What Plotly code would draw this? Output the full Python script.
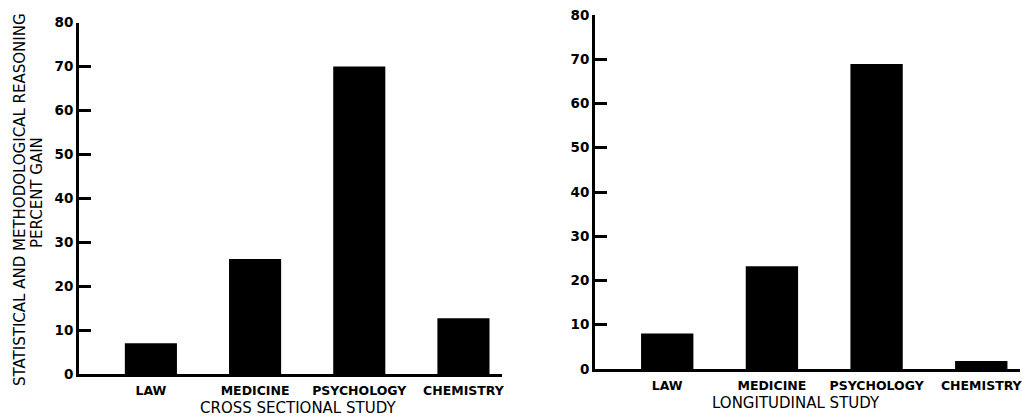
import plotly.graph_objects as go

categories = ["LAW", "MEDICINE", "PSYCHOLOGY", "CHEMISTRY"]
cross_sectional = [7.0, 26.2, 70.0, 12.7]
longitudinal = [8.0, 23.2, 68.9, 1.8]
y_ticks = [0, 10, 20, 30, 40, 50, 60, 70, 80]
left_title = "CROSS SECTIONAL STUDY"
right_title = "LONGITUDINAL STUDY"
y_title_lines = ["STATISTICAL AND METHODOLOGICAL REASONING", "PERCENT GAIN"]

W, H = 1026, 416
FONT = "DejaVu Sans"

fig = go.Figure()
fig.add_trace(go.Bar(x=categories, y=cross_sectional, width=0.5,
                     marker=dict(color="black", line=dict(width=0)),
                     xaxis="x", yaxis="y", showlegend=False))
fig.add_trace(go.Bar(x=categories, y=longitudinal, width=0.5,
                     marker=dict(color="black", line=dict(width=0)),
                     xaxis="x2", yaxis="y2", showlegend=False))

def px_dom(a, b, total):
    return [a / total, b / total]

xcommon = dict(type="category", range=[-0.69, 3.37], showline=True, linewidth=2.5,
               linecolor="black", ticks="", showgrid=False, zeroline=False,
               automargin=False,
               tickfont=dict(family=FONT, size=12.5, color="black", weight="bold"),
               ticklabelstandoff=3, fixedrange=True)
ycommon = dict(range=[0, 80], tickvals=y_ticks, ticks="inside", ticklen=12, tickwidth=3,
               tickcolor="black", showline=True, linewidth=3, linecolor="black",
               showgrid=False, zeroline=False, automargin=False, layer="above traces",
               tickfont=dict(family=FONT, size=13.5, color="black", weight="bold"),
               fixedrange=True)

fig.update_layout(
    width=W, height=H,
    margin=dict(l=0, r=0, t=0, b=0, autoexpand=False),
    paper_bgcolor="white", plot_bgcolor="white",
    xaxis=dict(xcommon, domain=px_dom(79, 502, W), anchor="y"),
    yaxis=dict(ycommon, domain=[(H - 374) / H, (H - 22.7) / H], anchor="x"),
    xaxis2=dict(xcommon, domain=px_dom(595, 1020, W), anchor="y2"),
    yaxis2=dict(ycommon, domain=[(H - 369) / H, (H - 15) / H], anchor="x2"),
    bargap=0.5,
)

fig.add_annotation(text=left_title, x=298 / W, y=(H - 408) / H, xref="paper", yref="paper",
                   showarrow=False, xanchor="center", yanchor="middle",
                   font=dict(family=FONT, size=15, color="black"))
fig.add_annotation(text=right_title, x=796 / W, y=(H - 403) / H, xref="paper", yref="paper",
                   showarrow=False, xanchor="center", yanchor="middle",
                   font=dict(family=FONT, size=15, color="black"))
fig.add_annotation(text=y_title_lines[0], x=20 / W, y=(H - 200) / H, xref="paper", yref="paper",
                   showarrow=False, xanchor="center", yanchor="middle", textangle=-90,
                   font=dict(family=FONT, size=15, color="black"))
fig.add_annotation(text=y_title_lines[1], x=37 / W, y=(H - 193) / H, xref="paper", yref="paper",
                   showarrow=False, xanchor="center", yanchor="middle", textangle=-90,
                   font=dict(family=FONT, size=15, color="black"))

fig.write_html("out.html", config={"displayModeBar": False},
               post_script="document.body.style.margin='0';document.body.style.padding='0';")
